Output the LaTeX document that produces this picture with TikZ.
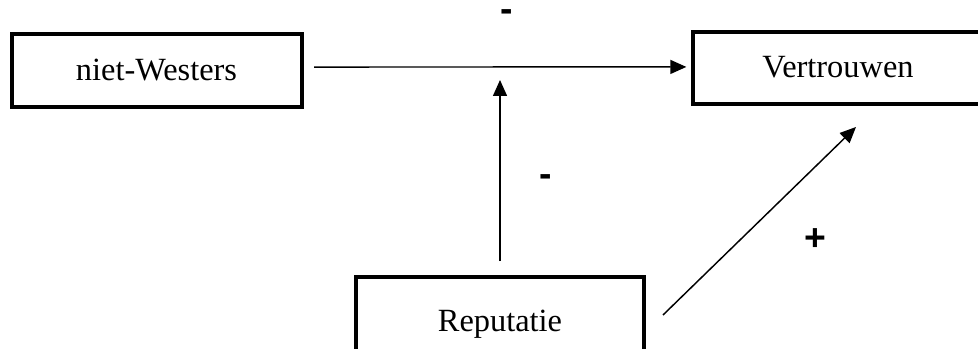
\documentclass[tikz,border=0pt]{standalone}
\usepackage{fontspec}
\setmainfont{Liberation Serif}
\newfontfamily\labfont{Liberation Sans}
\usetikzlibrary{arrows.meta}
\begin{document}
\begin{tikzpicture}[x=0.75pt,y=-0.75pt,
 box/.style={draw, line width=3pt, rectangle, inner sep=0pt, outer sep=0pt,
   minimum width=217.5pt, font=\fontsize{24.3}{29}\selectfont, text height=15pt, text depth=0pt},
 arr/.style={line width=1.1pt, -{Triangle[length=12pt,width=10.5pt]}},
 sign/.style={font=\labfont\bfseries\fontsize{28}{32}\selectfont, inner sep=0pt, anchor=base},
 dash sign/.style={sign, text height=0.36em, text depth=0pt}]
\useasboundingbox (0,0) rectangle (978,349);
\clip (0,0) rectangle (978,349);
\node[box, minimum height=54.75pt] (niet) at (156.5,70.5) {niet-Westers};
\node[box, minimum height=54pt] (vert) at (838,68) {Vertrouwen};
\node[box, minimum width=216pt, minimum height=66.75pt] (rep) at (500,321) {Reputatie};
\coordinate (modtip) at (500,80);
\coordinate (plustip) at (856,127);
\draw[arr] ([xshift=9.4pt,yshift=2.6pt]niet.east) -- ([xshift=-5pt,yshift=0.8pt]vert.west);
\draw[arr] ([yshift=11.6pt]rep.north) -- (modtip);
\draw[arr] ([xshift=14.25pt,yshift=4.5pt]rep.east) -- (plustip);
\node[dash sign] (m1) at (507,22) {-};
\node[dash sign] (m2) at (546,186) {-};
\node[sign] (p1) at (815,250) {+};
\end{tikzpicture}
\end{document}
